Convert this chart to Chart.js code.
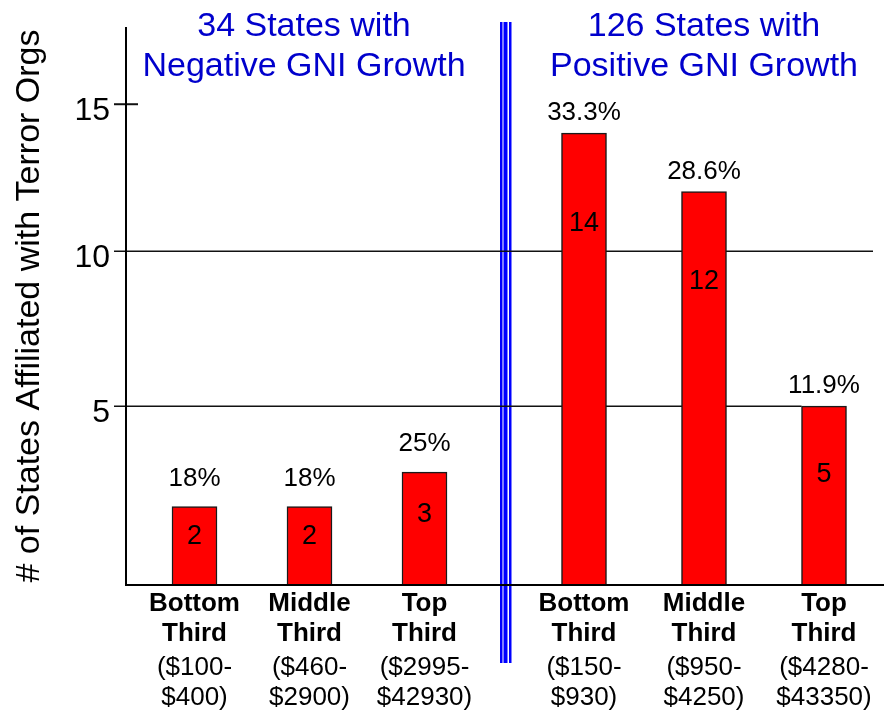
<!DOCTYPE html>
<html>
<head>
<meta charset="utf-8">
<script src="https://cdn.jsdelivr.net/npm/chart.js@4.4.1/dist/chart.umd.min.js"></script>
<style>
  html, body { margin: 0; background: #fff; }
  #wrap { position: relative; width: 884px; height: 713px; }
  #wrap canvas { position: absolute; left: 0; top: 0; }
</style>
</head>
<body>
<div id="wrap">
  <canvas id="negChart" width="884" height="713"></canvas>
  <canvas id="posChart" width="884" height="713"></canvas>
</div>
<script>
// data
const tiers = [['Bottom', 'Third'], ['Middle', 'Third'], ['Top', 'Third']];
const negRanges = [['($100-', '$400)'], ['($460-', '$2900)'], ['($2995-', '$42930)']];
const posRanges = [['($150-', '$930)'], ['($950-', '$4250)'], ['($4280-', '$43350)']];
const negCounts = [2, 2, 3];
const posCounts = [14, 12, 5];
const negShares = ['18%', '18%', '25%'];
const posShares = ['33.3%', '28.6%', '11.9%'];
const negTitle = ['34 States with', 'Negative GNI Growth'];
const posTitle = ['126 States with', 'Positive GNI Growth'];
const yTicks = [5, 10, 15];
const yTitle = '# of States Affiliated with Terror Orgs';

// layout
const FONT = "'Liberation Sans', Arial, Helvetica, sans-serif";
const FRAME_LEFT = 126;      // where the y axis line sits
const PLOT_LEFT = 137;       // left edge of the left panel's bar area
const LEFT_AREA_END = 482;
const RIGHT_AREA_START = 524;
const DIVIDER_X = 506;
const PLOT_TOP = 27;
const Y_MAX = 17.7;
const EXPONENT = 0.9;        // the original value axis is slightly compressed

Chart.defaults.font.family = FONT;
Chart.defaults.color = '#000';

class PowerScale extends Chart.LinearScale {
  getPixelForValue(value) {
    if (value === null || isNaN(value)) return NaN;
    const t = Math.max((value - this.min) / (this.max - this.min), 0);
    return this.getPixelForDecimal(Math.pow(t, EXPONENT));
  }
  getValueForPixel(pixel) {
    const t = Math.max(this.getDecimalForPixel(pixel), 0);
    return this.min + Math.pow(t, 1 / EXPONENT) * (this.max - this.min);
  }
}
PowerScale.id = 'power';
PowerScale.defaults = Chart.LinearScale.defaults;
Chart.register(PowerScale);

function hline(ctx, x1, x2, y) {
  ctx.beginPath();
  ctx.moveTo(x1, y);
  ctx.lineTo(x2, y);
  ctx.stroke();
}

// heading, divider and grid lines (behind the bars)
const frame = {
  id: 'frame',
  beforeDatasetsDraw(chart, args, o) {
    const { ctx, chartArea: a } = chart;
    const y = chart.scales.y;
    const bars = chart.getDatasetMeta(0).data;
    const left = o.side === 'left';
    ctx.save();

    ctx.fillStyle = '#0000CC';
    ctx.font = `34px ${FONT}`;
    ctx.textAlign = 'center';
    ctx.textBaseline = 'middle';
    const cx = ((left ? FRAME_LEFT : a.left) + a.right) / 2;
    o.heading.forEach((t, i) => ctx.fillText(t, cx, 27 + i * 40));

    if (left) {
      ctx.fillStyle = '#0000FF';
      ctx.fillRect(DIVIDER_X - 6, 22, 2.5, 641);
      ctx.fillRect(DIVIDER_X - 2.5, 22, 4, 641);
      ctx.fillRect(DIVIDER_X + 3, 22, 2.5, 641);
    }

    ctx.strokeStyle = '#111';
    ctx.lineWidth = 1.5;
    const y10 = y.getPixelForValue(10);
    const y5 = y.getPixelForValue(5);
    if (left) {
      hline(ctx, FRAME_LEFT - 12, DIVIDER_X, y10);
      hline(ctx, FRAME_LEFT - 12, DIVIDER_X, y5);
      ctx.lineWidth = 2;
      hline(ctx, FRAME_LEFT - 12, FRAME_LEFT + 12, y.getPixelForValue(15));
    } else {
      const last = bars[bars.length - 1];
      hline(ctx, DIVIDER_X, a.right - 11, y10);
      hline(ctx, DIVIDER_X, last.x - last.width / 2, y5);
    }
    ctx.restore();
  },
  afterDatasetsDraw(chart, args, o) {
    const { ctx, chartArea: a } = chart;
    ctx.save();
    ctx.strokeStyle = '#000';
    ctx.lineWidth = 2;
    if (o.side === 'left') {
      ctx.beginPath();
      ctx.moveTo(FRAME_LEFT, a.top);
      ctx.lineTo(FRAME_LEFT, a.bottom + 1);
      ctx.stroke();
      hline(ctx, FRAME_LEFT - 1, DIVIDER_X, a.bottom);
    } else {
      hline(ctx, DIVIDER_X, a.right, a.bottom);
    }
    ctx.restore();
  }
};

// share above each bar, count inside it
const barLabels = {
  id: 'barLabels',
  afterDatasetsDraw(chart, args, o) {
    const { ctx } = chart;
    const values = chart.data.datasets[0].data;
    ctx.save();
    ctx.fillStyle = '#000';
    ctx.textAlign = 'center';
    ctx.textBaseline = 'middle';
    chart.getDatasetMeta(0).data.forEach((bar, i) => {
      ctx.font = `26px ${FONT}`;
      ctx.fillText(o.shares[i], bar.x, bar.y - o.gap);
      ctx.font = `27px ${FONT}`;
      const h = bar.base - bar.y;
      ctx.fillText(String(values[i]), bar.x, bar.y + Math.min(90, 0.38 * h));
    });
    ctx.restore();
  }
};

function panel(id, side, counts, ranges, shares, heading) {
  const left = side === 'left';
  const yAxis = left ? {
    type: 'power', min: 0, max: Y_MAX,
    afterBuildTicks: s => { s.ticks = yTicks.map(v => ({ value: v })); },
    afterFit: s => { s.width = PLOT_LEFT; },
    grid: { drawOnChartArea: false, color: 'rgba(0,0,0,0)', tickLength: 23 },
    border: { display: false },
    ticks: { color: '#000', padding: 4, labelOffset: 7, font: { size: 32 } },
    title: { display: true, text: yTitle, color: '#000', font: { size: 34 }, padding: { top: 9, bottom: 0 } }
  } : { type: 'power', min: 0, max: Y_MAX, display: false };

  return new Chart(document.getElementById(id), {
    type: 'bar',
    data: {
      labels: tiers,
      datasets: [{
        data: counts,
        backgroundColor: '#FF0000',
        borderColor: '#1a1a1a',
        borderWidth: 1.5,
        barThickness: 45
      }]
    },
    options: {
      responsive: false,
      animation: false,
      layout: {
        padding: left
          ? { top: PLOT_TOP, left: 0, right: 884 - LEFT_AREA_END, bottom: 0 }
          : { top: PLOT_TOP, left: RIGHT_AREA_START, right: 0, bottom: 0 }
      },
      plugins: {
        legend: { display: false },
        tooltip: { enabled: false },
        frame: { side, heading },
        barLabels: { shares, gap: left ? 28 : 20 }
      },
      scales: {
        x: {
          weight: 0,
          grid: { display: false, drawTicks: false },
          border: { display: false },
          ticks: { color: '#000', padding: 4, maxRotation: 0, autoSkip: false,
                   font: { size: 26, weight: 'bold', lineHeight: '30px' } }
        },
        x2: {
          type: 'category', position: 'bottom', weight: 1, offset: true,
          labels: ranges,
          grid: { display: false, drawTicks: false },
          border: { display: false },
          ticks: { color: '#000', padding: 0, maxRotation: 0, autoSkip: false,
                   font: { size: 26, lineHeight: '30px' } }
        },
        y: yAxis
      }
    },
    plugins: [frame, barLabels]
  });
}

panel('negChart', 'left', negCounts, negRanges, negShares, negTitle);
panel('posChart', 'right', posCounts, posRanges, posShares, posTitle);
</script>
</body>
</html>
